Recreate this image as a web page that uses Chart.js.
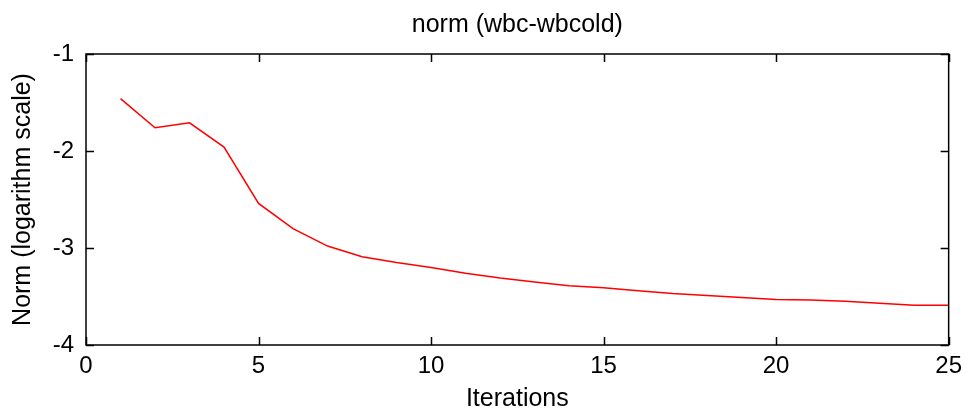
<!DOCTYPE html>
<html>
<head>
<meta charset="utf-8">
<script src="https://cdn.jsdelivr.net/npm/chart.js@4/dist/chart.umd.min.js"></script>
<style>
  html, body { margin: 0; padding: 0; background: #fff; }
  #wrap { width: 969px; height: 414px; position: relative; }
</style>
</head>
<body>
<div id="wrap"><canvas id="c" width="969" height="414"></canvas></div>
<script>
const chartTitle = "norm (wbc-wbcold)";
const xAxisTitle = "Iterations";
const yAxisTitle = "Norm (logarithm scale)";
const iterations = [1, 2, 3, 4, 5, 6, 7, 8, 9, 10, 11, 12, 13, 14, 15, 16, 17, 18, 19, 20, 21, 22, 23, 24, 25];
const normLog = [-1.46, -1.76, -1.71, -1.96, -2.54, -2.80, -2.98, -3.09, -3.15, -3.20, -3.26, -3.31, -3.35, -3.39, -3.41, -3.44, -3.47, -3.49, -3.51, -3.53, -3.535, -3.55, -3.57, -3.59, -3.59];
const xTickValues = [0, 5, 10, 15, 20, 25];
const yTickValues = [-4, -3, -2, -1];

const points = iterations.map((v, i) => ({ x: v, y: normLog[i] }));
const FONT = "'Liberation Sans', Arial, Helvetica, sans-serif";

const boxTicks = {
  id: 'boxTicks',
  afterDatasetsDraw(chart) {
    const { ctx, chartArea: { left, right, top, bottom }, scales: { x, y } } = chart;
    const len = 8;
    ctx.save();
    ctx.strokeStyle = '#000';
    ctx.lineWidth = 1.5;
    ctx.beginPath();
    x.ticks.forEach(t => {
      const px = Math.round(x.getPixelForValue(t.value)) + 0.5;
      ctx.moveTo(px, bottom); ctx.lineTo(px, bottom - len);
      ctx.moveTo(px, top); ctx.lineTo(px, top + len);
    });
    y.ticks.forEach(t => {
      const py = Math.round(y.getPixelForValue(t.value)) + 0.5;
      ctx.moveTo(left, py); ctx.lineTo(left + len, py);
      ctx.moveTo(right, py); ctx.lineTo(right - len, py);
    });
    ctx.stroke();
    ctx.strokeRect(left, top, right - left, bottom - top);
    ctx.restore();
  }
};

new Chart(document.getElementById('c'), {
  type: 'line',
  data: {
    datasets: [{
      data: points,
      borderColor: '#ff0000',
      borderWidth: 1.5,
      pointRadius: 0,
      tension: 0,
      fill: false
    }]
  },
  options: {
    responsive: false,
    animation: false,
    layout: { padding: { left: 0, right: 15, top: 0, bottom: 0 } },
    plugins: {
      legend: { display: false },
      tooltip: { enabled: false },
      title: { display: false }
    },
    scales: {
      x: {
        type: 'linear',
        min: 0, max: 25,
        afterBuildTicks: s => { s.ticks = xTickValues.map(v => ({ value: v })); },
        afterFit: s => { s.height = 69; },
        grid: { display: false, drawTicks: false },
        border: { display: false },
        ticks: { color: '#000', padding: 7, font: { family: FONT, size: 24 }, maxRotation: 0 },
        title: { display: true, text: xAxisTitle, color: '#000', font: { family: FONT, size: 25 }, padding: { top: 0, bottom: 0 } }
      },
      xTop: {
        type: 'linear',
        position: 'top',
        min: 0, max: 25,
        afterFit: s => { s.height = 54; },
        grid: { display: false, drawTicks: false },
        border: { display: false },
        ticks: { display: false },
        title: { display: true, text: chartTitle, color: '#000', font: { family: FONT, size: 25 }, padding: { top: 10.5, bottom: 0 } }
      },
      y: {
        type: 'linear',
        min: -4, max: -1,
        afterBuildTicks: s => { s.ticks = yTickValues.map(v => ({ value: v })); },
        afterFit: s => { s.width = 86; },
        grid: { display: false, drawTicks: false },
        border: { display: false },
        ticks: { color: '#000', padding: 12, font: { family: FONT, size: 24 } },
        title: { display: true, text: yAxisTitle, color: '#000', font: { family: FONT, size: 25 }, padding: { top: 8.5, bottom: 0 } }
      }
    }
  },
  plugins: [boxTicks]
});
</script>
</body>
</html>
